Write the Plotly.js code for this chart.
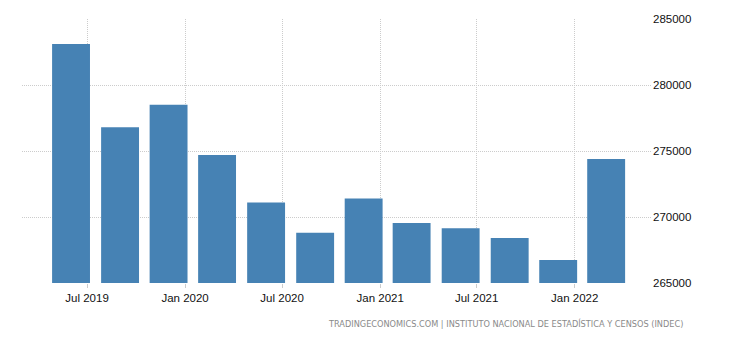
<!DOCTYPE html>
<html>
<head>
<meta charset="utf-8">
<script src="https://cdn.plot.ly/plotly-3.0.1.min.js"></script>
<style>html,body{margin:0;padding:0;background:#fff;}#chart{width:730px;height:340px;}</style>
</head>
<body>
<div id="chart"></div>
<script>
const dates = ["2019-06-01","2019-09-01","2019-12-01","2020-03-01","2020-06-01","2020-09-01","2020-12-01","2021-03-01","2021-06-01","2021-09-01","2021-12-01","2022-03-01"];
const values = [283100, 276800, 278500, 274700, 271100, 268800, 271400, 269550, 269150, 268400, 266750, 274400];
const xTickVals = ["2019-07-01","2020-01-01","2020-07-01","2021-01-01","2021-07-01","2022-01-01"];
const xTickText = ["Jul 2019","Jan 2020","Jul 2020","Jan 2021","Jul 2021","Jan 2022"];
const yTickVals = [265000, 270000, 275000, 280000, 285000];
const sourceText = "TRADINGECONOMICS.COM | INSTITUTO NACIONAL DE ESTADÍSTICA Y CENSOS (INDEC)";

const trace = {
  type: "bar",
  x: dates,
  y: values,
  marker: {color: "#4682b4"},
  hoverinfo: "x+y"
};
const layout = {
  width: 730, height: 340,
  margin: {l: 22, r: 78, t: 19, b: 57},
  paper_bgcolor: "#fff", plot_bgcolor: "#fff",
  bargap: 0.21,
  showlegend: false,
  font: {family: "Liberation Sans, Arial, sans-serif", size: 11.5, color: "#111"},
  xaxis: {
    type: "date",
    range: ["2019-03-01", "2022-05-26"],
    tickvals: xTickVals, ticktext: xTickText,
    showgrid: true, gridcolor: "#cccccc", griddash: "1px,1px", gridwidth: 1,
    ticks: "outside", ticklen: 4, tickcolor: "#cccccc",
    showline: false, zeroline: false,
    tickfont: {size: 11.5, color: "#111"}
  },
  yaxis: {
    side: "right",
    range: [265000, 285000],
    tickvals: yTickVals,
    tickformat: "d",
    showgrid: true, gridcolor: "#cccccc", griddash: "1px,1px", gridwidth: 1,
    ticks: "", showline: false, zeroline: false,
    tickfont: {size: 11.5, color: "#111"}
  },
  annotations: [{
    text: sourceText,
    xref: "paper", yref: "paper",
    x: (685 - 22) / 630, y: -0.155,
    xanchor: "right", yanchor: "middle",
    showarrow: false,
    font: {size: 8.2, color: "#8a8a8a", family: "DejaVu Sans, sans-serif"}
  }]
};
Plotly.newPlot("chart", [trace], layout, {displayModeBar: false, staticPlot: true});
</script>
</body>
</html>
